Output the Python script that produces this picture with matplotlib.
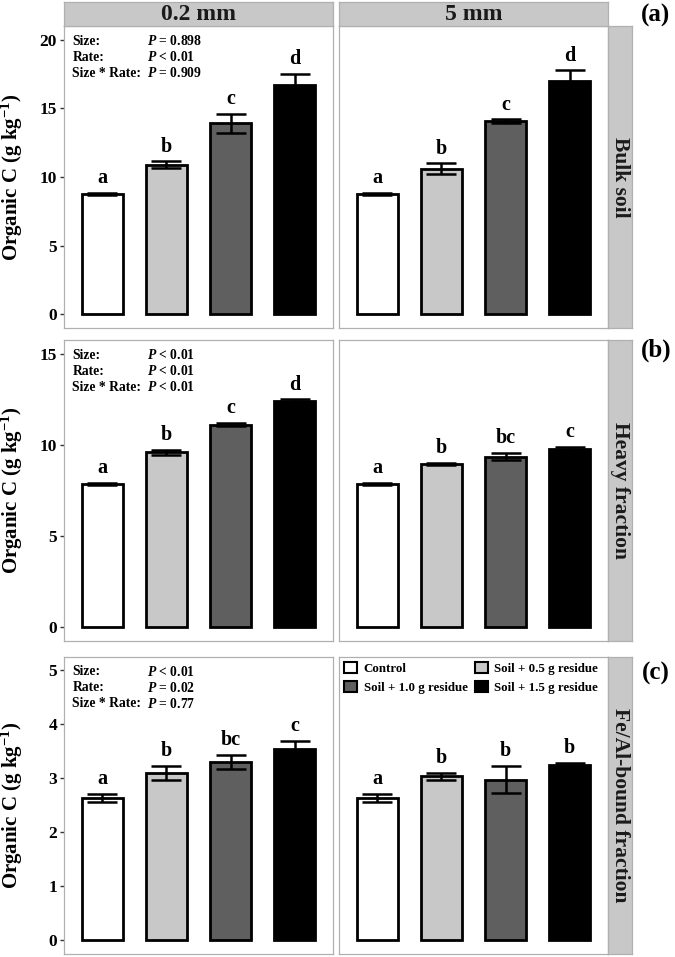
import numpy as np
import matplotlib
matplotlib.use("Agg")
import matplotlib.pyplot as plt
from matplotlib.patches import Patch

plt.rcParams['font.family'] = ['Liberation Serif', 'DejaVu Serif']
plt.rcParams['font.weight'] = 'bold'
plt.rcParams['mathtext.fontset'] = 'custom'
plt.rcParams['mathtext.rm'] = 'Liberation Serif:bold'
plt.rcParams['mathtext.bf'] = 'Liberation Serif:bold'
plt.rcParams['mathtext.it'] = 'Liberation Serif:italic:bold'

# data
categories = ['Control', 'Soil + 0.5 g residue', 'Soil + 1.0 g residue', 'Soil + 1.5 g residue']
sizes = ['0.2 mm', '5 mm']
fractions = ['Bulk soil', 'Heavy fraction', 'Fe/Al-bound fraction']
panel_tags = ['(a)', '(b)', '(c)']

bulk_02 = [8.75, 10.88, 13.90, 16.68]
bulk_02_se = [0.08, 0.25, 0.72, 0.85]
bulk_02_let = ['a', 'b', 'c', 'd']
bulk_5 = [8.77, 10.59, 14.07, 16.97]
bulk_5_se = [0.08, 0.40, 0.12, 0.80]
bulk_5_let = ['a', 'b', 'c', 'd']

heavy_02 = [7.86, 9.59, 11.11, 12.39]
heavy_02_se = [0.05, 0.12, 0.10, 0.10]
heavy_02_let = ['a', 'b', 'c', 'd']
heavy_5 = [7.86, 8.97, 9.35, 9.79]
heavy_5_se = [0.05, 0.06, 0.20, 0.12]
heavy_5_let = ['a', 'b', 'bc', 'c']

feal_02 = [2.63, 3.10, 3.30, 3.54]
feal_02_se = [0.07, 0.13, 0.13, 0.15]
feal_02_let = ['a', 'b', 'bc', 'c']
feal_5 = [2.63, 3.03, 2.97, 3.24]
feal_5_se = [0.07, 0.06, 0.25, 0.04]
feal_5_let = ['a', 'b', 'b', 'b']

stats_labels = ['Size:', 'Rate:', 'Size * Rate:']
bulk_p = ['= 0.898', '< 0.01', '= 0.909']
heavy_p = ['< 0.01', '< 0.01', '< 0.01']
feal_p = ['< 0.01', '= 0.02', '= 0.77']

yticks = [[0, 5, 10, 15, 20], [0, 5, 10, 15], [0, 1, 2, 3, 4, 5]]
ylims = [(-1.0, 21.0), (-0.75, 15.75), (-0.25, 5.25)]

means = [[bulk_02, bulk_5], [heavy_02, heavy_5], [feal_02, feal_5]]
errs = [[bulk_02_se, bulk_5_se], [heavy_02_se, heavy_5_se], [feal_02_se, feal_5_se]]
letters = [[bulk_02_let, bulk_5_let], [heavy_02_let, heavy_5_let], [feal_02_let, feal_5_let]]
pvals = [bulk_p, heavy_p, feal_p]

fills = ['white', '#C8C8C8', '#5F5F5F', 'black']
strip_col = '#C8C8C8'
border_col = '#B0B0B0'

W, H = 675, 957
fig = plt.figure(figsize=(W / 100, H / 100), dpi=100)


def box(x, top, w, h):
    return [x / W, 1 - (top + h) / H, w / W, h / H]


col_x = [64, 339]
pw = 269
row_top = [26, 340, 656.5]
row_h = [302, 301, 297]

x = np.arange(len(categories))

for r in range(3):
    for c in range(2):
        ax = fig.add_axes(box(col_x[c], row_top[r], pw, row_h[r]))
        ax.bar(x, means[r][c], width=0.63, color=fills, edgecolor='black',
               linewidth=2.0, zorder=2)
        ax.errorbar(x, means[r][c], yerr=errs[r][c], fmt='none', ecolor='black',
                    elinewidth=1.8, capsize=11, capthick=1.8, zorder=3)
        for xi, m, e, lt in zip(x, means[r][c], errs[r][c], letters[r][c]):
            ax.annotate(lt, xy=(xi, m + e), xytext=(0, 7), textcoords='offset points',
                        ha='center', va='baseline', fontsize=14.5, fontweight='bold')
        ax.set_xlim(-0.6, 3.6)
        ax.set_ylim(*ylims[r])
        ax.set_xticks([])
        ax.set_yticks(yticks[r])
        for s in ax.spines.values():
            s.set_color(border_col)
            s.set_linewidth(0.9)
        if c == 0:
            ax.tick_params(axis='y', length=3, width=1, color='#333333', pad=2,
                           labelsize=12.5)
            for t in ax.get_yticklabels():
                t.set_fontweight('bold')
            for i, (lab, p) in enumerate(zip(stats_labels, pvals[r])):
                dy = -(11 + 11.5 * i)
                ax.annotate(lab, xy=(0, 1), xycoords='axes fraction', xytext=(6, dy),
                            textcoords='offset points', ha='left', va='center',
                            fontsize=9.8, fontweight='bold')
                ax.annotate(r'$\mathit{P}$ ' + p, xy=(0, 1), xycoords='axes fraction',
                            xytext=(59.5, dy), textcoords='offset points', ha='left',
                            va='center', fontsize=9.8, fontweight='bold')
        else:
            ax.tick_params(axis='y', length=0, labelleft=False)
        if r == 2 and c == 1:
            handles = [Patch(facecolor=fills[i], edgecolor='black', linewidth=1.5,
                             label=categories[i]) for i in (0, 2, 1, 3)]
            ax.legend(handles=handles, ncol=2, loc='upper left', frameon=False,
                      prop={'size': 9.3, 'weight': 'bold'}, handlelength=1.0,
                      handleheight=1.0, handletextpad=0.5, columnspacing=0.55,
                      labelspacing=0.45, borderaxespad=0.3, borderpad=0.1)

    # right strip
    sax = fig.add_axes(box(608, row_top[r], 24, row_h[r]))
    sax.set_facecolor(strip_col)
    sax.set_xticks([])
    sax.set_yticks([])
    for s in sax.spines.values():
        s.set_color(border_col)
        s.set_linewidth(0.9)
    sax.text(0.5, 0.5, fractions[r], rotation=270, ha='center', va='center',
             fontsize=15.5, fontweight='bold', color='#1A1A1A', transform=sax.transAxes)

    # y label
    fig.text(12 / W, 1 - (row_top[r] + row_h[r] / 2) / H, r'Organic C (g kg$^{\mathbf{-1}}$)',
             rotation=90, ha='center', va='center', fontsize=15, fontweight='bold')

# top strips
for c in range(2):
    tax = fig.add_axes(box(col_x[c], 2, pw, 24))
    tax.set_facecolor(strip_col)
    tax.set_xticks([])
    tax.set_yticks([])
    for s in tax.spines.values():
        s.set_color(border_col)
        s.set_linewidth(0.9)
    tax.text(0.5, 0.5, sizes[c], ha='center', va='center', fontsize=17,
             fontweight='bold', color='#1A1A1A', transform=tax.transAxes)

tag_y = [15, 350, 673]
for tag, ty in zip(panel_tags, tag_y):
    fig.text(656 / W, 1 - ty / H, tag, ha='center', va='center', fontsize=18,
             fontweight='bold')

fig.savefig('out.png', dpi=100)
